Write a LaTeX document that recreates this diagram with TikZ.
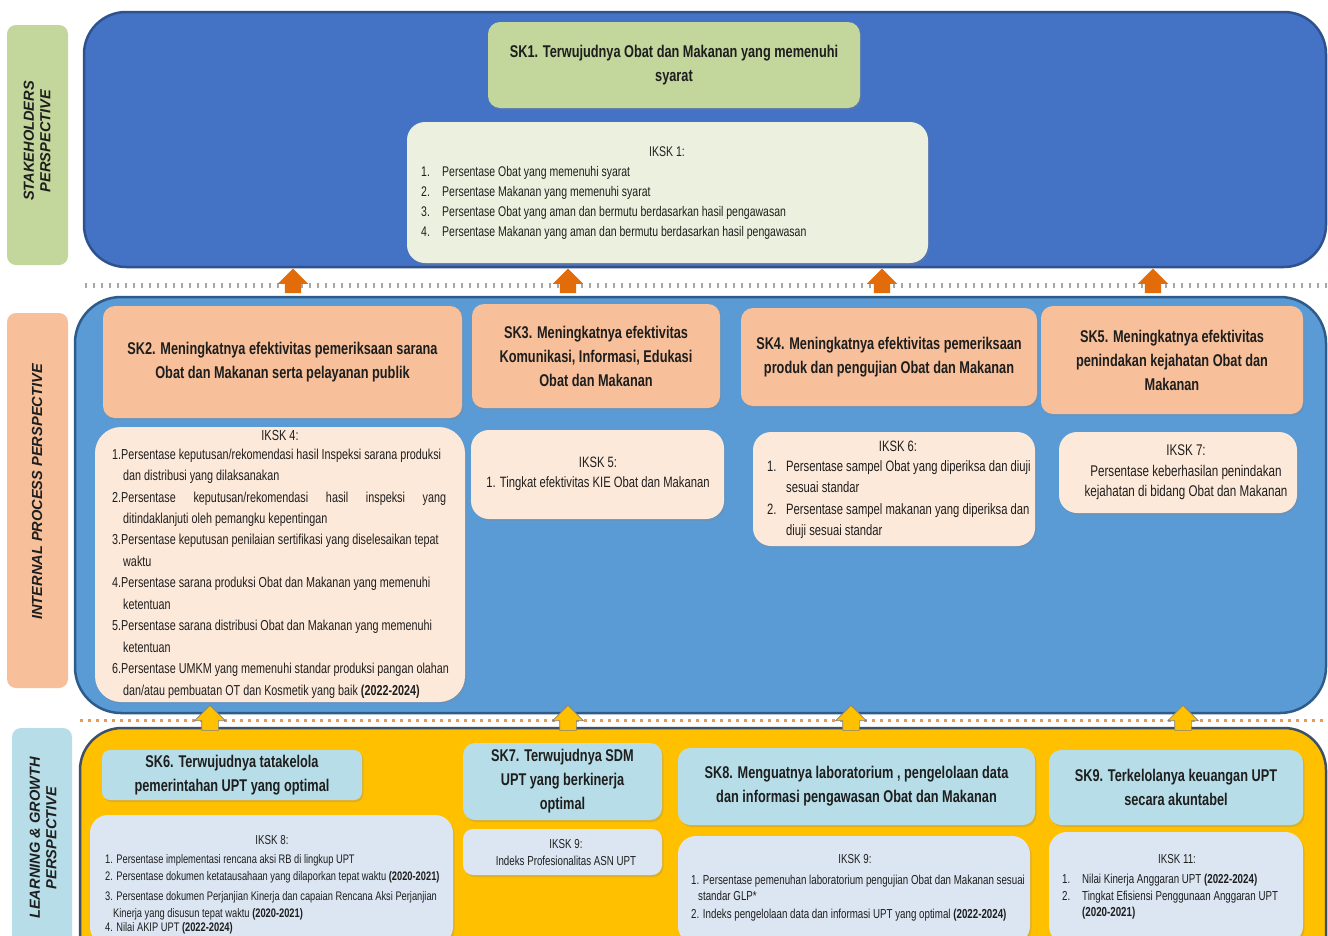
\documentclass[tikz,border=0pt]{standalone}
\usepackage{fontspec}
\setmainfont{Liberation Sans}[FakeStretch=0.75]
\newfontfamily\lblfont{Liberation Sans}
\usetikzlibrary{shapes.arrows,shadows}
\definecolor{topblue}{HTML}{4472C4}
\definecolor{topedge}{HTML}{2F528F}
\definecolor{midblue}{HTML}{5B9BD5}
\definecolor{midedge}{HTML}{2E5C8A}
\definecolor{yel}{HTML}{FFC000}
\definecolor{yeledge}{HTML}{3F4F66}
\definecolor{skgreen}{HTML}{C3D69B}
\definecolor{ikgreen}{HTML}{EBF1DE}
\definecolor{skorange}{HTML}{F7C09A}
\definecolor{ikorange}{HTML}{FDE9D9}
\definecolor{skblue}{HTML}{B7DEE8}
\definecolor{ikblue}{HTML}{DCE6F2}
\definecolor{arrorange}{HTML}{E36C0A}
\definecolor{dotgray}{HTML}{A6A6A6}
\definecolor{dotorange}{HTML}{E69A55}
\definecolor{ink}{HTML}{1E1E1E}
\newcommand{\sktitle}{\fontsize{17}{24}\selectfont\bfseries}
\newcommand{\lblstyle}{\lblfont\bfseries\itshape\fontsize{14.6}{16.5}\selectfont}
\newcommand{\numbox}[2]{\makebox[#1][l]{#2}}
\tikzset{
  panel/.style={draw, rounded corners=42pt, line width=2.5pt, inner sep=0pt},
  lbl/.style={rounded corners=9pt, inner sep=0pt},
  shad/.style={drop shadow={opacity=0.25, shadow xshift=1.5pt, shadow yshift=-2pt}},
  skbox/.style={rounded corners=12pt, align=center, inner sep=0pt, font=\sktitle, text=ink, shad},
  ikbox/.style={rounded corners=18pt, inner sep=0pt, shad},
  txt/.style={inner sep=0pt, align=left, text=ink, anchor=north west},
  ctxt/.style={inner sep=0pt, align=center, text=ink},
  uparrow/.style={single arrow, shape border rotate=90, inner sep=8pt,
     single arrow head extend=7pt, minimum height=22pt},
  lbltext/.style={rotate=90, align=center, font=\lblstyle, text=ink, inner sep=0pt}
}
\begin{document}
\begin{tikzpicture}[x=1pt,y=-1pt]
\useasboundingbox (0,0) rectangle (1328,935);
\clip (0,0) rectangle (1328,935);
\fill[white] (0,0) rectangle (1328,935);

% perspective labels
\node[lbl, fill=skgreen, minimum width=61pt, minimum height=240pt] (lstake) at (37.5,145) {};
\node[lbltext] (tstake) at (37,141) {STAKEHOLDERS\\PERSPECTIVE};
\node[lbl, fill=skorange, minimum width=61pt, minimum height=375pt] (lint) at (37.5,500.5) {};
\node[lbltext] (tint) at (37,492) {INTERNAL PROCESS PERSPECTIVE};
\node[lbl, fill=skblue, minimum width=60pt, minimum height=272pt] (llearn) at (42,864) {};
\node[lbltext] (tlearn) at (43,838) {LEARNING \& GROWTH\\PERSPECTIVE};

% panels
\node[panel, fill=topblue, draw=topedge, minimum width=1242pt, minimum height=255pt] (ptop) at (705,139.5) {};
\node[panel, fill=midblue, draw=midedge, minimum width=1251pt, minimum height=416pt, rounded corners=46pt] (pmid) at (700.5,505) {};
\node[panel, fill=yel, draw=yeledge, minimum width=1246pt, minimum height=272pt] (pbot) at (703,864) {};

% dotted separators
\coordinate (d1a) at (85,285); \coordinate (d1b) at (1328,285);
\draw[dotgray, line width=5pt, dash pattern=on 1.5pt off 6.5pt] (d1a) -- (d1b);
\coordinate (d2a) at (80,720); \coordinate (d2b) at (1328,720);
\draw[dotorange, line width=3pt, dash pattern=on 2.5pt off 5.5pt] (d2a) -- (d2b);

% arrows between perspectives
\node[uparrow, fill=arrorange] (oa1) at (293,285) {};
\node[uparrow, fill=arrorange] (oa2) at (568,285) {};
\node[uparrow, fill=arrorange] (oa3) at (882,285) {};
\node[uparrow, fill=arrorange] (oa4) at (1153,285) {};
\node[uparrow, fill=yel, draw=gray, line width=0.6pt] (ya1) at (210,722) {};
\node[uparrow, fill=yel, draw=gray, line width=0.6pt] (ya2) at (568,722) {};
\node[uparrow, fill=yel, draw=gray, line width=0.6pt] (ya3) at (851,722) {};
\node[uparrow, fill=yel, draw=gray, line width=0.6pt] (ya4) at (1183,722) {};

% ---------- stakeholders ----------
\node[skbox, fill=skgreen, minimum width=372pt, minimum height=86pt] (sk1) at (674,65)
  {SK1. Terwujudnya Obat dan Makanan yang memenuhi\\syarat};
\node[ikbox, fill=ikgreen, minimum width=521pt, minimum height=141pt] (ik1) at (667.5,192.5) {};
\node[ctxt, font=\fontsize{14}{20}\selectfont] (ik1t) at (667,152) {IKSK 1:};
\node[txt, font=\fontsize{14}{20.3}\selectfont] (ik1l) at (421,165.7) {%
\numbox{21pt}{1.}Persentase Obat yang memenuhi syarat\\
\numbox{21pt}{2.}Persentase Makanan yang memenuhi syarat\\
\numbox{21pt}{3.}Persentase Obat yang aman dan bermutu berdasarkan hasil pengawasan\\
\numbox{21pt}{4.}Persentase Makanan yang aman dan bermutu berdasarkan hasil pengawasan};

% ---------- internal process ----------
\node[skbox, fill=skorange, minimum width=359pt, minimum height=112pt] (sk2) at (282.5,362)
  {SK2. Meningkatnya efektivitas pemeriksaan sarana\\Obat dan Makanan serta pelayanan publik};
\node[skbox, fill=skorange, minimum width=248pt, minimum height=104pt] (sk3) at (596,356)
  {SK3. Meningkatnya efektivitas\\Komunikasi, Informasi, Edukasi\\Obat dan Makanan};
\node[skbox, fill=skorange, minimum width=296pt, minimum height=98pt] (sk4) at (889,357)
  {SK4. Meningkatnya efektivitas pemeriksaan\\produk dan pengujian Obat dan Makanan};
\node[skbox, fill=skorange, minimum width=262pt, minimum height=108pt] (sk5) at (1172,360)
  {SK5. Meningkatnya efektivitas\\penindakan kejahatan Obat dan\\Makanan};

\node[ikbox, fill=ikorange, minimum width=370pt, minimum height=275pt, rounded corners=26pt] (ik4) at (280,564.5) {};
\node[ctxt, font=\fontsize{14.6}{20}\selectfont] (ik4t) at (280,435) {IKSK 4:};
\node[txt, font=\fontsize{14.4}{21.45}\selectfont] (ik4l) at (112,448.5) {%
1.Persentase keputusan/rekomendasi hasil Inspeksi sarana produksi\\
\hspace*{11pt}dan distribusi yang dilaksanakan\\
\makebox[334pt][s]{2.Persentase keputusan/rekomendasi hasil inspeksi yang}\\
\hspace*{11pt}ditindaklanjuti oleh pemangku kepentingan\\
3.Persentase keputusan penilaian sertifikasi yang diselesaikan tepat\\
\hspace*{11pt}waktu\\
4.Persentase sarana produksi Obat dan Makanan yang memenuhi\\
\hspace*{11pt}ketentuan\\
5.Persentase sarana distribusi Obat dan Makanan yang memenuhi\\
\hspace*{11pt}ketentuan\\
6.Persentase UMKM yang memenuhi standar produksi pangan olahan\\
\hspace*{11pt}dan/atau pembuatan OT dan Kosmetik yang baik \textbf{(2022-2024)}};

\node[ikbox, fill=ikorange, minimum width=253pt, minimum height=89pt] (ik5) at (597.5,474.5) {};
\node[ctxt, font=\fontsize{15}{20}\selectfont] (ik5t) at (598,474) {IKSK 5:\\1. Tingkat efektivitas KIE Obat dan Makanan};

\node[ikbox, fill=ikorange, minimum width=282pt, minimum height=114pt] (ik6) at (894,489) {};
\node[ctxt, font=\fontsize{15}{20}\selectfont] (ik6t) at (898,446) {IKSK 6:};
\node[txt, font=\fontsize{15}{21.3}\selectfont] (ik6l) at (767,460.5) {%
\numbox{19pt}{1.}Persentase sampel Obat yang diperiksa dan diuji\\
\hspace*{19pt}sesuai standar\\
\numbox{19pt}{2.}Persentase sampel makanan yang diperiksa dan\\
\hspace*{19pt}diuji sesuai standar};

\node[ikbox, fill=ikorange, minimum width=238pt, minimum height=81pt] (ik7) at (1178,472.5) {};
\node[ctxt, font=\fontsize{15.5}{20.5}\selectfont] (ik7t) at (1186,472.5) {IKSK 7:\\Persentase keberhasilan penindakan\\kejahatan di bidang Obat dan Makanan};

% ---------- learning & growth ----------
\node[skbox, fill=skblue, minimum width=260pt, minimum height=50pt, rounded corners=8pt] (sk6) at (232,775)
  {SK6. Terwujudnya tatakelola\\pemerintahan UPT yang optimal};
\node[ikbox, fill=ikblue, minimum width=363pt, minimum height=130pt] (ik8) at (271.5,880) {};
\node[ctxt, font=\fontsize{13}{16}\selectfont] (ik8t) at (272,840) {IKSK 8:};
\node[txt, font=\fontsize{12.4}{16.5}\selectfont] (ik8l) at (105,854.6) {%
1. Persentase implementasi rencana aksi RB di lingkup UPT\\
2. Persentase dokumen ketatausahaan yang dilaporkan tepat waktu \textbf{(2020-2021)}\\[4pt]
3. Persentase dokumen Perjanjian Kinerja dan capaian Rencana Aksi Perjanjian\\
\hspace*{8pt}Kinerja yang disusun tepat waktu \textbf{(2020-2021)}\\[-2pt]
4. Nilai AKIP UPT \textbf{(2022-2024)}};

\node[skbox, fill=skblue, minimum width=199pt, minimum height=77pt] (sk7) at (562.5,781.5)
  {SK7. Terwujudnya SDM\\UPT yang berkinerja\\optimal};
\node[ikbox, fill=ikblue, minimum width=199pt, minimum height=46pt, rounded corners=10pt] (ik9a) at (562.5,852) {};
\node[ctxt, font=\fontsize{13}{17}\selectfont] (ik9at) at (566,853) {IKSK 9:\\Indeks Profesionalitas ASN UPT};

\node[skbox, fill=skblue, minimum width=357pt, minimum height=77pt] (sk8) at (856.5,786.5)
  {SK8. Menguatnya laboratorium , pengelolaan data\\dan informasi pengawasan Obat dan Makanan};
\node[ikbox, fill=ikblue, minimum width=352pt, minimum height=108pt] (ik9b) at (854,890) {};
\node[ctxt, font=\fontsize{13}{16}\selectfont] (ik9bt) at (855,859) {IKSK 9:};
\node[txt, font=\fontsize{13}{16.5}\selectfont] (ik9bl) at (691,874.4) {%
1. Persentase pemenuhan laboratorium pengujian Obat dan Makanan sesuai\\
\hspace*{7pt}standar GLP*\\[1.5pt]
2. Indeks pengelolaan data dan informasi UPT yang optimal \textbf{(2022-2024)}};

\node[skbox, fill=skblue, minimum width=254pt, minimum height=75pt] (sk9) at (1176,787.5)
  {SK9. Terkelolanya keuangan UPT\\secara akuntabel};
\node[ikbox, fill=ikblue, minimum width=254pt, minimum height=112pt] (ik11) at (1176,888) {};
\node[ctxt, font=\fontsize{13}{16}\selectfont] (ik11t) at (1177,859) {IKSK 11:};
\node[txt, font=\fontsize{13}{16.5}\selectfont] (ik11l) at (1062,874.3) {%
\numbox{20pt}{1.}Nilai Kinerja Anggaran UPT \textbf{(2022-2024)}\\
\numbox{20pt}{2.}Tingkat Efisiensi Penggunaan Anggaran UPT\\
\hspace*{20pt}\textbf{(2020-2021)}};
\end{tikzpicture}
\end{document}
